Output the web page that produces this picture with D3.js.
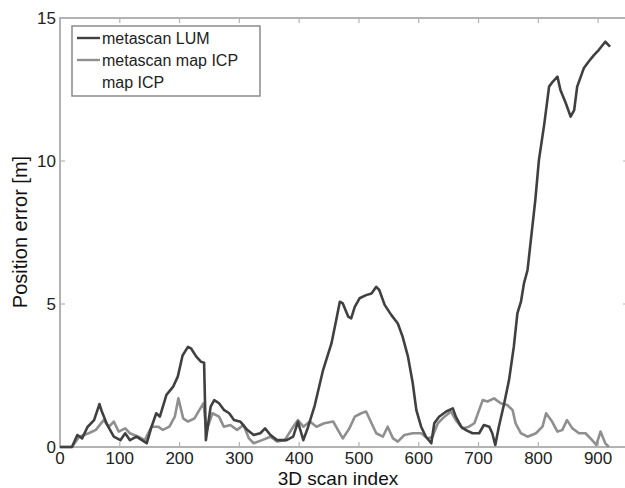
<!DOCTYPE html>
<html>
<head>
<meta charset="utf-8">
<script src="https://cdn.jsdelivr.net/npm/d3@7"></script>
<style>
  body { margin: 0; background: #fff; }
  svg { display: block; font-family: "Liberation Sans", Arial, sans-serif; }
</style>
</head>
<body>
<div id="chart"></div>
<script>
// metascan LUM (dark)
const lumX = [0, 20, 29, 37, 46, 57, 66, 70, 79, 90, 101, 109, 117, 128, 137, 145, 153, 161, 167, 178, 189, 197, 205, 214, 219, 228, 236, 241, 244, 247, 252, 258, 266, 274, 283, 291, 302, 313, 324, 335, 343, 352, 363, 379, 390, 398, 407, 415, 426, 440, 454, 462, 468, 473, 482, 487, 493, 501, 512, 521, 529, 534, 543, 554, 565, 573, 582, 590, 596, 604, 612, 621, 626, 634, 646, 657, 662, 671, 679, 690, 701, 709, 718, 723, 728, 734, 743, 751, 759, 765, 771, 776, 782, 795, 801, 810, 818, 824, 832, 837, 846, 854, 860, 865, 876, 884, 893, 901, 912, 920];
const lumY = [0, 0, 0.42, 0.3, 0.7, 0.94, 1.5, 1.24, 0.77, 0.36, 0.24, 0.48, 0.24, 0.36, 0.24, 0.13, 0.7, 1.18, 1.06, 1.82, 2.1, 2.46, 3.2, 3.5, 3.45, 3.16, 2.98, 2.95, 0.24, 0.7, 1.41, 1.64, 1.53, 1.3, 1.18, 0.94, 0.88, 0.6, 0.42, 0.48, 0.65, 0.42, 0.24, 0.24, 0.36, 0.88, 0.24, 0.7, 1.45, 2.69, 3.62, 4.44, 5.08, 5.02, 4.56, 4.5, 4.9, 5.2, 5.31, 5.37, 5.6, 5.49, 4.97, 4.62, 4.32, 3.86, 3.16, 2.23, 1.29, 0.71, 0.36, 0.13, 0.83, 1.06, 1.24, 1.35, 1.06, 0.71, 0.59, 0.48, 0.48, 0.77, 0.71, 0.48, 0.07, 0.71, 1.53, 2.34, 3.5, 4.67, 5.08, 5.72, 6.19, 8.64, 10.03, 11.3, 12.6, 12.77, 12.95, 12.48, 12.02, 11.55, 11.78, 12.6, 13.24, 13.47, 13.7, 13.88, 14.17, 14.0];

// metascan map ICP (light)
const icpX = [0, 20, 32, 48, 60, 73, 82, 90, 98, 109, 117, 131, 142, 153, 164, 172, 183, 192, 198, 206, 214, 225, 233, 240, 245, 247, 255, 266, 274, 285, 296, 307, 316, 324, 338, 352, 363, 376, 390, 398, 407, 418, 429, 442, 457, 465, 473, 484, 493, 504, 512, 521, 529, 540, 548, 557, 565, 576, 590, 604, 615, 623, 632, 643, 654, 662, 673, 684, 693, 701, 707, 715, 726, 737, 748, 757, 762, 771, 782, 796, 807, 813, 823, 832, 840, 848, 857, 868, 879, 890, 897, 904, 912, 918];
const icpY = [0, 0, 0.36, 0.48, 0.6, 0.94, 0.71, 0.89, 0.54, 0.65, 0.48, 0.36, 0.24, 0.71, 0.71, 0.6, 0.71, 1.06, 1.7, 1.0, 0.89, 1.0, 1.29, 1.53, 0.5, 0.7, 1.18, 1.06, 0.71, 0.77, 0.6, 0.77, 0.3, 0.13, 0.24, 0.36, 0.19, 0.24, 0.71, 0.94, 0.71, 0.89, 0.71, 0.83, 0.89, 0.59, 0.3, 0.65, 1.06, 1.18, 1.24, 0.83, 0.48, 0.36, 0.71, 0.3, 0.19, 0.42, 0.48, 0.48, 0.3, 0.36, 0.83, 1.06, 1.24, 0.94, 0.65, 0.71, 0.83, 1.29, 1.64, 1.59, 1.7, 1.53, 1.47, 1.29, 0.83, 0.48, 0.36, 0.48, 0.71, 1.18, 0.89, 0.54, 0.59, 0.94, 0.65, 0.48, 0.48, 0.24, 0.07, 0.54, 0.13, 0.0];

const legendNames = ["metascan LUM", "metascan map ICP", "map ICP"];
const legendColors = ["#404040", "#8f8f8f", "#ffffff"];
const xTicks = [0, 100, 200, 300, 400, 500, 600, 700, 800, 900];
const yTicks = [0, 5, 10, 15];

const W = 625, H = 488;
const margin = {top: 18, left: 60};
const svg = d3.select("#chart").append("svg")
  .attr("width", W).attr("height", H);

const x = d3.scaleLinear().domain([0, 950]).range([margin.left, 628]);
const y = d3.scaleLinear().domain([0, 15]).range([447, margin.top]);

const axisColor = "#b3b3b3";

// frame
svg.append("rect")
  .attr("x", x(0)).attr("y", y(15))
  .attr("width", x(950) - x(0)).attr("height", y(0) - y(15))
  .attr("fill", "none").attr("stroke", axisColor).attr("stroke-width", 2);

// ticks, inward like matlab
const g = svg.append("g");
xTicks.forEach(t => {
  g.append("line").attr("x1", x(t)).attr("x2", x(t)).attr("y1", y(0)).attr("y2", y(0) - 5)
    .attr("stroke", axisColor).attr("stroke-width", 1.2);
  g.append("line").attr("x1", x(t)).attr("x2", x(t)).attr("y1", y(15)).attr("y2", y(15) + 5)
    .attr("stroke", axisColor).attr("stroke-width", 1.2);
});
yTicks.forEach(t => {
  g.append("line").attr("x1", x(0)).attr("x2", x(0) + 5).attr("y1", y(t)).attr("y2", y(t))
    .attr("stroke", axisColor).attr("stroke-width", 1.2);
  g.append("line").attr("x1", x(950)).attr("x2", x(950) - 5).attr("y1", y(t)).attr("y2", y(t))
    .attr("stroke", axisColor).attr("stroke-width", 1.2);
});

// tick labels
g.selectAll(".xl").data(xTicks).enter().append("text")
  .attr("x", d => x(d)).attr("y", 464)
  .attr("text-anchor", "middle").attr("font-size", 17).attr("fill", "#222")
  .text(d => d);
g.selectAll(".yl").data(yTicks).enter().append("text")
  .attr("x", 56).attr("y", d => y(d)).attr("dy", "0.35em")
  .attr("text-anchor", "end").attr("font-size", 17).attr("fill", "#222")
  .text(d => d);

// axis titles
svg.append("text").attr("x", 338).attr("y", 485)
  .attr("text-anchor", "middle").attr("font-size", 19).attr("fill", "#111")
  .text("3D scan index");
svg.append("text")
  .attr("transform", "translate(27," + 232 + ") rotate(-90)")
  .attr("text-anchor", "middle").attr("font-size", 20).attr("fill", "#111")
  .text("Position error [m]");

// lines
const line = d3.line().x(d => x(d[0])).y(d => y(d[1]));
svg.append("path").datum(d3.zip(icpX, icpY))
  .attr("d", line).attr("fill", "none")
  .attr("stroke", legendColors[1]).attr("stroke-width", 2.6).attr("stroke-linejoin", "round");
svg.append("path").datum(d3.zip(lumX, lumY))
  .attr("d", line).attr("fill", "none")
  .attr("stroke", legendColors[0]).attr("stroke-width", 2.6).attr("stroke-linejoin", "round");

// legend
const leg = svg.append("g").attr("transform", "translate(72,26)");
leg.append("rect").attr("width", 188).attr("height", 70)
  .attr("fill", "#fff").attr("stroke", "#8a8a8a").attr("stroke-width", 1.5);
legendNames.forEach((name, i) => {
  const ly = 12 + i * 22;
  leg.append("line").attr("x1", 5).attr("x2", 28).attr("y1", ly).attr("y2", ly)
    .attr("stroke", legendColors[i]).attr("stroke-width", 2.4);
  leg.append("text").attr("x", 30).attr("y", ly).attr("dy", "0.35em")
    .attr("font-size", 16).attr("fill", "#222").text(name);
});
</script>
</body>
</html>
